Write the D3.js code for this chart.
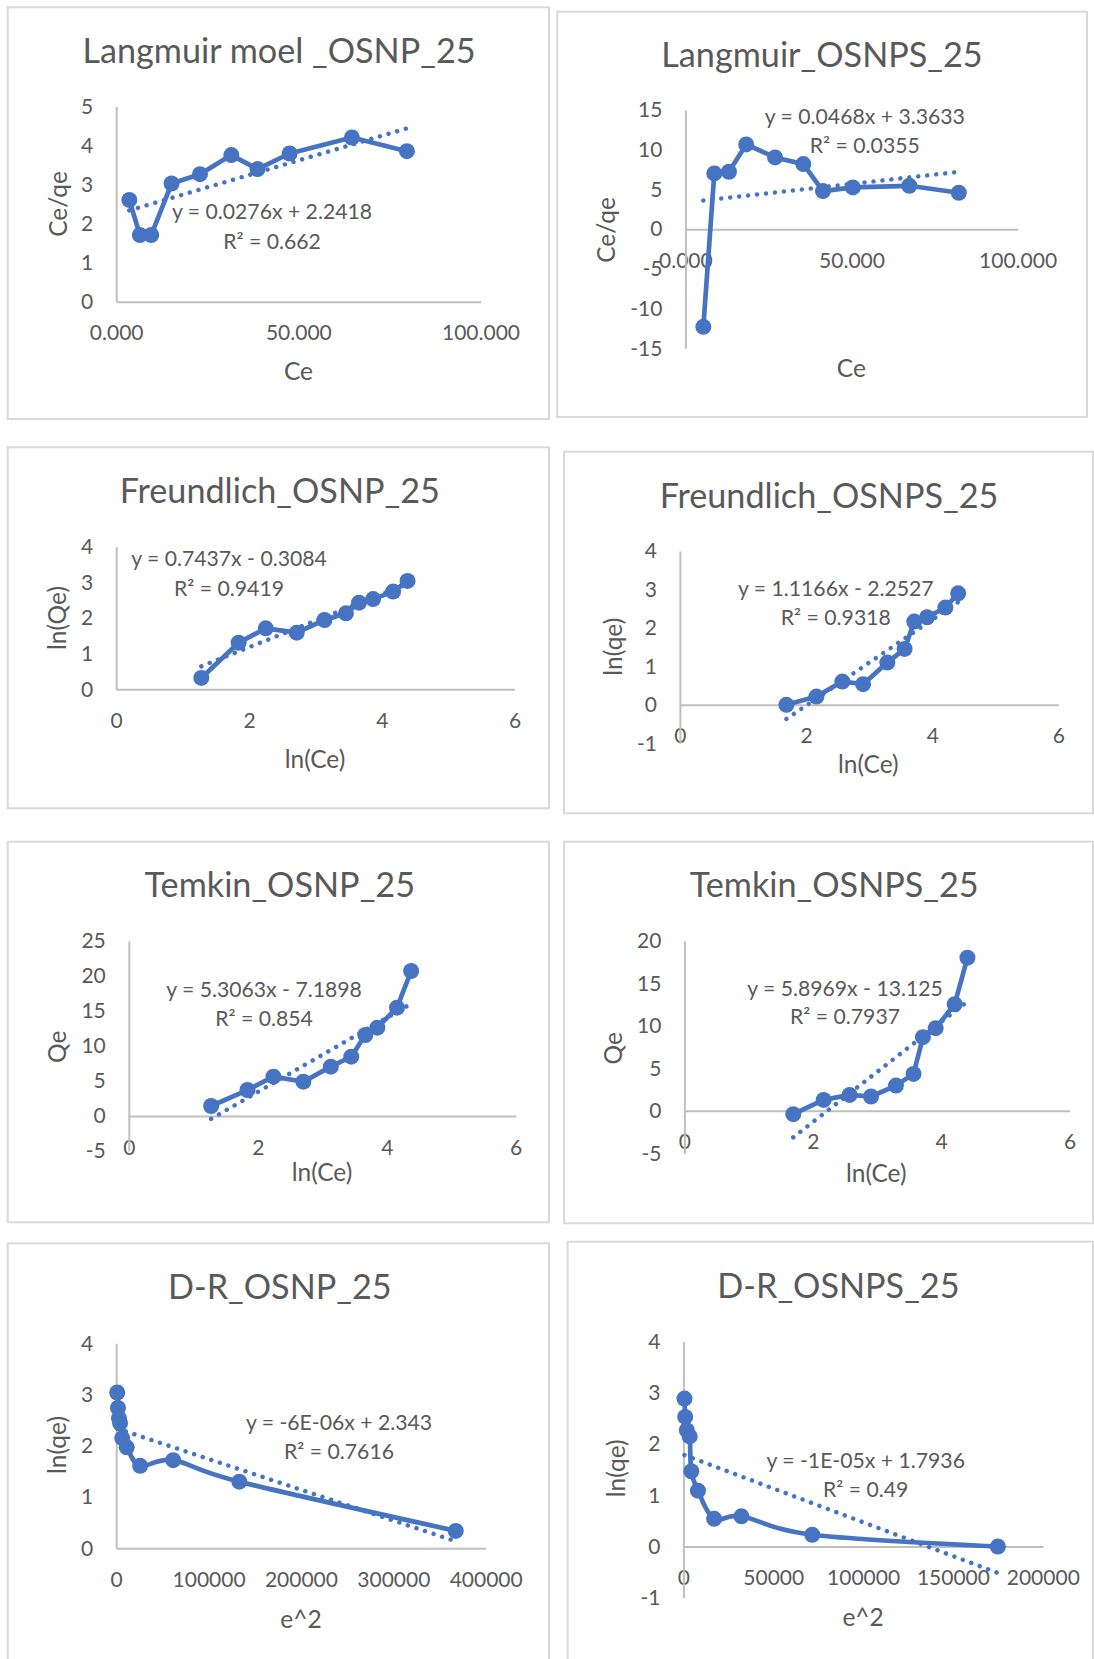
<!DOCTYPE html>
<html><head><meta charset="utf-8">
<script src="https://cdn.jsdelivr.net/npm/d3@7"></script>
<style>
html,body{margin:0;padding:0;background:#fff;}
svg{display:block;}
</style></head><body>
<svg id="c" width="1094" height="1659"></svg>
<script>
// ---------------- DATA ----------------
const titles = ["Langmuir moel _OSNP_25", "Langmuir_OSNPS_25", "Freundlich_OSNP_25", "Freundlich_OSNPS_25",
                "Temkin_OSNP_25", "Temkin_OSNPS_25", "D-R_OSNP_25", "D-R_OSNPS_25"];
const xTitles = ["Ce", "Ce", "ln(Ce)", "ln(Ce)", "ln(Ce)", "ln(Ce)", "e^2", "e^2"];
const yTitles = ["Ce/qe", "Ce/qe", "ln(Qe)", "ln(qe)", "Qe", "Qe", "ln(qe)", "ln(qe)"];

// Langmuir OSNP: Ce vs Ce/qe
const langOsnpX = [3.6, 6.5, 9.6, 15.2, 23.0, 31.6, 38.8, 47.6, 64.7, 79.8];
const langOsnpY = [2.61, 1.71, 1.71, 3.03, 3.27, 3.76, 3.40, 3.80, 4.21, 3.86];
// Langmuir OSNPS
const langOsnpsX = [5.4, 8.7, 13.1, 18.3, 27.0, 35.5, 41.4, 50.4, 67.4, 82.3];
const langOsnpsY = [-12.3, 7.02, 7.23, 10.67, 9.03, 8.19, 4.79, 5.25, 5.46, 4.58];
// Freundlich OSNP: ln(Ce) vs ln(Qe)
const frOsnpX = [1.282, 1.844, 2.252, 2.719, 3.137, 3.46, 3.657, 3.869, 4.17, 4.388];
const frOsnpY = [0.318, 1.308, 1.71, 1.589, 1.944, 2.13, 2.43, 2.53, 2.74, 3.04];
// Freundlich OSNPS
const frOsnpsX = [1.688, 2.164, 2.575, 2.904, 3.288, 3.562, 3.715, 3.918, 4.208, 4.411];
const frOsnpsY = [0.0, 0.216, 0.606, 0.537, 1.10, 1.455, 2.165, 2.277, 2.528, 2.90];
// Temkin OSNP: ln(Ce) vs Qe
const tkOsnpX = [1.277, 1.84, 2.243, 2.707, 3.133, 3.45, 3.668, 3.854, 4.159, 4.378];
const tkOsnpY = [1.43, 3.71, 5.62, 4.9, 7.05, 8.48, 11.57, 12.62, 15.48, 20.71];
// Temkin OSNPS
const tkOsnpsX = [1.696, 2.17, 2.574, 2.908, 3.296, 3.57, 3.716, 3.915, 4.211, 4.41];
const tkOsnpsY = [-0.39, 1.29, 1.88, 1.69, 2.98, 4.35, 8.67, 9.73, 12.55, 18.04];
// D-R OSNP: e^2 vs ln(qe)
const drOsnpX = [1100, 1900, 3000, 4200, 6500, 11400, 25900, 61700, 133300, 367600];
const drOsnpY = [3.04, 2.74, 2.54, 2.44, 2.15, 1.97, 1.61, 1.72, 1.30, 0.34];
// D-R OSNPS
const drOsnpsX = [600, 1000, 1900, 3500, 4400, 8100, 17100, 32300, 71700, 175000];
const drOsnpsY = [2.89, 2.53, 2.27, 2.15, 1.47, 1.09, 0.54, 0.59, 0.23, 0.0];

// Linear trendlines (slope, intercept) and their labels
const trendSlopes = [0.0276, 0.0468, 0.7437, 1.1166, 5.3063, 5.8969, -6.0e-6, -1.32e-5];
const trendIntercepts = [2.2418, 3.3633, -0.3084, -2.2527, -7.1898, -13.125, 2.343, 1.7936];
const eqLabels = ["y = 0.0276x + 2.2418", "y = 0.0468x + 3.3633", "y = 0.7437x - 0.3084", "y = 1.1166x - 2.2527",
                  "y = 5.3063x - 7.1898", "y = 5.8969x - 13.125", "y = -6E-06x + 2.343", "y = -1E-05x + 1.7936"];
const r2Labels = ["R² = 0.662", "R² = 0.0355", "R² = 0.9419", "R² = 0.9318",
                  "R² = 0.854", "R² = 0.7937", "R² = 0.7616", "R² = 0.49"];

// Tick values and labels
const xTicksLangmuir = [0, 50, 100];
const xTickLabelsLangmuir = ["0.000", "50.000", "100.000"];
const xTicksLn = [0, 2, 4, 6];
const xTickLabelsLn = ["0", "2", "4", "6"];
const xTicksDrOsnp = [0, 100000, 200000, 300000, 400000];
const xTickLabelsDrOsnp = ["0", "100000", "200000", "300000", "400000"];
const xTicksDrOsnps = [0, 50000, 100000, 150000, 200000];
const xTickLabelsDrOsnps = ["0", "50000", "100000", "150000", "200000"];

const yTicksLangOsnp = [0, 1, 2, 3, 4, 5];
const yTickLabelsLangOsnp = ["0", "1", "2", "3", "4", "5"];
const yTicksLangOsnps = [-15, -10, -5, 0, 5, 10, 15];
const yTickLabelsLangOsnps = ["-15", "-10", "-5", "0", "5", "10", "15"];
const yTicks0to4 = [0, 1, 2, 3, 4];
const yTickLabels0to4 = ["0", "1", "2", "3", "4"];
const yTicksM1to4 = [-1, 0, 1, 2, 3, 4];
const yTickLabelsM1to4 = ["-1", "0", "1", "2", "3", "4"];
const yTicksTkOsnp = [-5, 0, 5, 10, 15, 20, 25];
const yTickLabelsTkOsnp = ["-5", "0", "5", "10", "15", "20", "25"];
const yTicksTkOsnps = [-5, 0, 5, 10, 15, 20];
const yTickLabelsTkOsnps = ["-5", "0", "5", "10", "15", "20"];

// ---------------- LAYOUT ----------------
const panels = [
  {xs: langOsnpX, ys: langOsnpY, xT: xTicksLangmuir, xL: xTickLabelsLangmuir, yT: yTicksLangOsnp, yL: yTickLabelsLangOsnp,
   border: [7.7, 7.3, 549, 419], px: [116.2, 480.5], py: [106.7, 301.7], title: [279, 62.7], yTitle: [59.8, 204], xTitle: [298.5, 371.7], eq: [272, 211.7, 241.7], smooth: false},
  {xs: langOsnpsX, ys: langOsnpsY, xT: xTicksLangmuir, xL: xTickLabelsLangmuir, yT: yTicksLangOsnps, yL: yTickLabelsLangOsnps,
   border: [557.2, 11.7, 1087, 417], px: [685.4, 1017.6], py: [110, 348.3], title: [822, 66.7], yTitle: [608, 230], xTitle: [851.3, 369.3], eq: [864.8, 116.7, 145.7], smooth: false},
  {xs: frOsnpX, ys: frOsnpY, xT: xTicksLn, xL: xTickLabelsLn, yT: yTicks0to4, yL: yTickLabels0to4,
   border: [7.7, 447.3, 549, 808.3], px: [116.2, 514.6], py: [546.7, 689.3], title: [279.8, 502.7], yTitle: [59, 618], xTitle: [315, 760], eq: [229, 558.3, 588.3], smooth: false},
  {xs: frOsnpsX, ys: frOsnpsY, xT: xTicksLn, xL: xTickLabelsLn, yT: yTicksM1to4, yL: yTickLabelsM1to4,
   border: [564.1, 451.7, 1093, 813.3], px: [679.9, 1058.4], py: [551, 743.3], title: [829, 508.3], yTitle: [614.2, 646.7], xTitle: [868.3, 765], eq: [835.8, 589, 617.3], smooth: false},
  {xs: tkOsnpX, ys: tkOsnpY, xT: xTicksLn, xL: xTickLabelsLn, yT: yTicksTkOsnp, yL: yTickLabelsTkOsnp,
   border: [7.7, 841.7, 549, 1222.3], px: [128.8, 515.7], py: [941, 1151], title: [279.8, 896.7], yTitle: [59, 1046.7], xTitle: [322, 1173.3], eq: [264, 990, 1018.3], smooth: false},
  {xs: tkOsnpsX, ys: tkOsnpsY, xT: xTicksLn, xL: xTickLabelsLn, yT: yTicksTkOsnps, yL: yTickLabelsTkOsnps,
   border: [564.1, 841.7, 1093, 1223.3], px: [684.4, 1069.5], py: [941, 1153.3], title: [834.2, 896.7], yTitle: [614.2, 1048.3], xTitle: [876.2, 1174.3], eq: [845, 988.3, 1016.7], smooth: false},
  {xs: drOsnpX, ys: drOsnpY, xT: xTicksDrOsnp, xL: xTickLabelsDrOsnp, yT: yTicks0to4, yL: yTickLabels0to4,
   border: [7.7, 1243.3, 549, 1680], px: [116.2, 485.7], py: [1343.3, 1548.3], title: [279.8, 1299], yTitle: [59, 1445], xTitle: [301, 1620], eq: [339, 1422.3, 1451.7], smooth: true},
  {xs: drOsnpsX, ys: drOsnpsY, xT: xTicksDrOsnps, xL: xTickLabelsDrOsnps, yT: yTicksM1to4, yL: yTickLabelsM1to4,
   border: [567.6, 1241.7, 1093, 1680], px: [683.4, 1042.8], py: [1341.7, 1597.7], title: [838.4, 1297.7], yTitle: [617.7, 1468.3], xTitle: [863.1, 1617.7], eq: [865.7, 1460.7, 1490], smooth: true}
];

const FONT = "Lato, 'Noto Sans', sans-serif";
const TXT = "#595959";
const BLUE = "#4674C2";
const svg = d3.select("#c");
svg.append("rect").attr("width", 1094).attr("height", 1659).attr("fill", "#fff");

panels.forEach((p, i) => {
  const g = svg.append("g");
  const b = p.border;
  g.append("rect").attr("x", b[0]).attr("y", b[1]).attr("width", b[2] - b[0]).attr("height", b[3] - b[1])
    .attr("fill", "#fff").attr("stroke", "#D9D9D9").attr("stroke-width", 2);

  const x = d3.scaleLinear().domain([p.xT[0], p.xT[p.xT.length - 1]]).range(p.px);
  const y = d3.scaleLinear().domain([p.yT[0], p.yT[p.yT.length - 1]]).range([p.py[1], p.py[0]]);

  const xAxis = d3.axisBottom(x).tickValues(p.xT).tickFormat((d, k) => p.xL[k]).tickSize(0).tickSizeOuter(0).tickPadding(23.6);
  const yAxis = d3.axisLeft(y).tickValues(p.yT).tickFormat((d, k) => p.yL[k]).tickSize(0).tickSizeOuter(0).tickPadding(23);

  const gx = g.append("g").attr("transform", `translate(0,${y(0)})`).call(xAxis);
  const gy = g.append("g").attr("transform", `translate(${x(0)},0)`).call(yAxis);
  [gx, gy].forEach(ax => {
    ax.attr("font-family", null).attr("font-size", null);
    ax.select(".domain").attr("stroke", "#BFBFBF").attr("stroke-width", 2);
    ax.selectAll("text").attr("font-family", FONT).attr("font-size", 21).attr("fill", TXT);
  });

  const pts = p.xs.map((v, k) => [v, p.ys[k]]);
  const line = d3.line().x(d => x(d[0])).y(d => y(d[1]))
    .curve(p.smooth ? d3.curveCardinal.tension(0) : d3.curveLinear);
  g.append("path").attr("d", line(pts)).attr("fill", "none").attr("stroke", BLUE)
    .attr("stroke-width", 4.7).attr("stroke-linejoin", "round");
  g.selectAll("circle.m").data(pts).join("circle").attr("class", "m")
    .attr("cx", d => x(d[0])).attr("cy", d => y(d[1])).attr("r", 8).attr("fill", BLUE);

  const x0 = d3.min(p.xs), x1 = d3.max(p.xs);
  const tr = [[x0, trendSlopes[i] * x0 + trendIntercepts[i]], [x1, trendSlopes[i] * x1 + trendIntercepts[i]]];
  g.append("path").attr("d", d3.line().x(d => x(d[0])).y(d => y(d[1]))(tr))
    .attr("fill", "none").attr("stroke", BLUE).attr("stroke-width", 4.5)
    .attr("stroke-linecap", "round").attr("stroke-dasharray", "0.01 9");

  const T = (tx, ty, s, size) => g.append("text").attr("x", tx).attr("y", ty).text(s)
    .attr("font-family", FONT).attr("font-size", size).attr("fill", TXT).attr("text-anchor", "middle");

  T(p.title[0], p.title[1], titles[i], 34.2);
  T(p.xTitle[0], p.xTitle[1] + 0.33 * 24.5, xTitles[i], 24.5);
  g.append("text").attr("transform", `translate(${p.yTitle[0] + 0.3 * 24.5},${p.yTitle[1]}) rotate(-90)`)
    .text(yTitles[i]).attr("font-family", FONT).attr("font-size", 24.5).attr("fill", TXT).attr("text-anchor", "middle");
  T(p.eq[0], p.eq[1] + 7.2, eqLabels[i], 21.2);
  T(p.eq[0], p.eq[2] + 7.2, r2Labels[i], 21.2);
});
</script></body></html>
